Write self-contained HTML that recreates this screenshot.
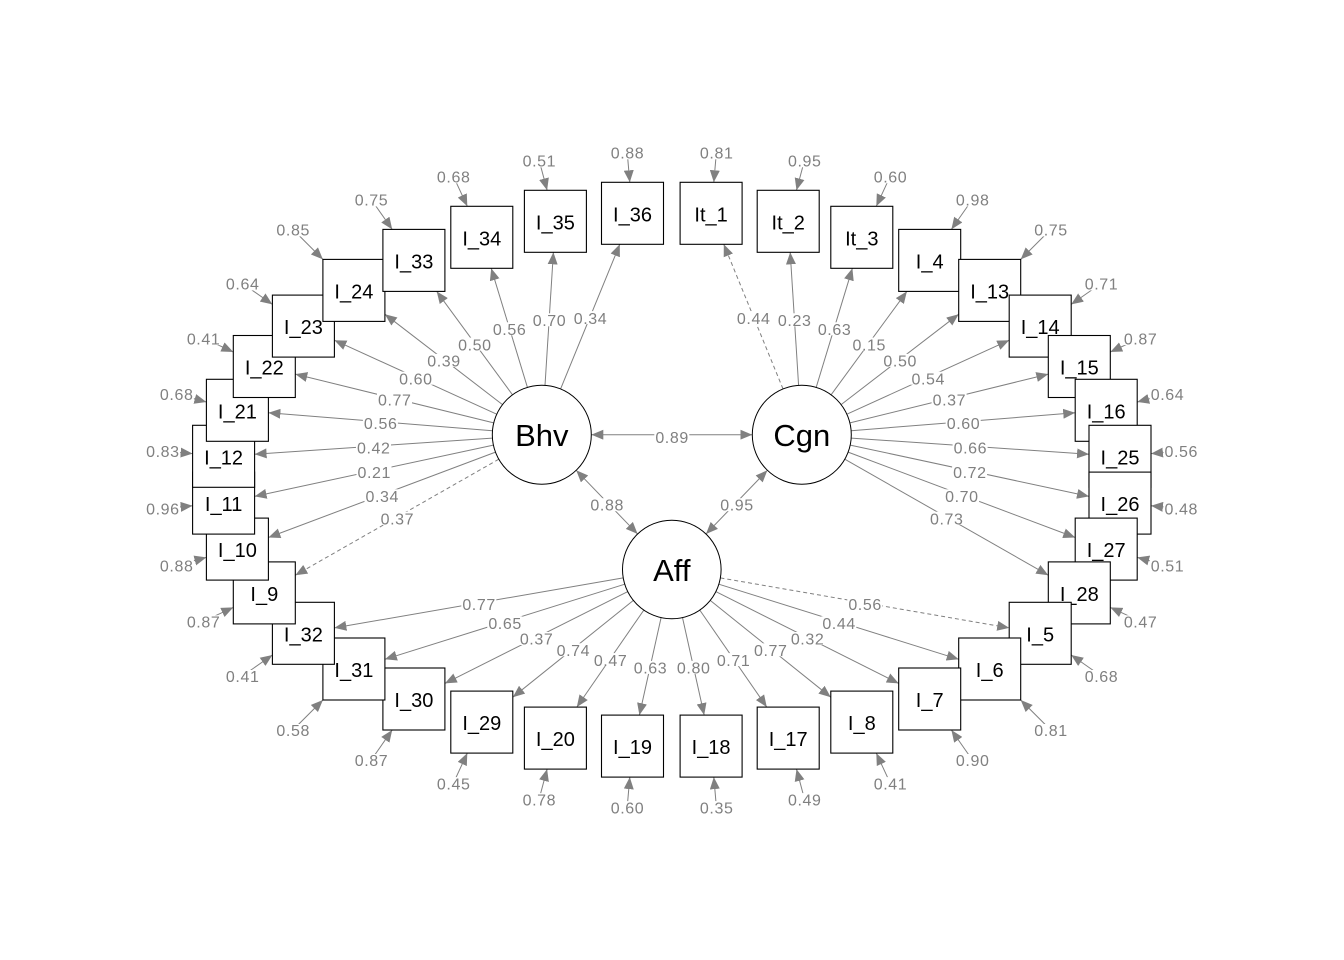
<!DOCTYPE html>
<html><head><meta charset="utf-8"><style>
html,body{margin:0;padding:0;background:#fff;}
svg{display:block;}
.el{font-family:"Liberation Sans",Arial,sans-serif;font-size:16px;letter-spacing:0.6px;fill:#808080;text-anchor:middle;}
.nd text{font-family:"Liberation Sans",Arial,sans-serif;font-size:20px;fill:#000;text-anchor:middle;}
.nd rect{fill:#fff;stroke:#000;stroke-width:1.1;}
.lt{font-family:"Liberation Sans",Arial,sans-serif;font-size:31px;fill:#000;text-anchor:middle;}
</style></head><body>
<svg width="1344" height="960" viewBox="0 0 1344 960" xmlns="http://www.w3.org/2000/svg">
<rect width="1344" height="960" fill="#fff"/>
<defs>
<marker id="ah" viewBox="0 0 12 10" refX="12" refY="5" markerWidth="12" markerHeight="10" markerUnits="userSpaceOnUse" orient="auto-start-reverse"><path d="M0,0L12,5L0,10Z" fill="#808080"/></marker>
</defs>

<g id="L" stroke="#808080" stroke-width="1" fill="none" marker-end="url(#ah)">
<line x1="545.0" y1="385.3" x2="553.4" y2="252.3"/>
<line x1="527.4" y1="387.3" x2="491.2" y2="268.3"/>
<line x1="512.5" y1="394.8" x2="436.7" y2="291.4"/>
<line x1="502.5" y1="404.6" x2="384.9" y2="314.2"/>
<line x1="496.7" y1="414.2" x2="334.4" y2="340.2"/>
<line x1="493.7" y1="422.9" x2="295.3" y2="374.1"/>
<line x1="492.5" y1="430.7" x2="268.4" y2="412.8"/>
<line x1="492.4" y1="438.1" x2="254.6" y2="454.2"/>
<line x1="493.4" y1="445.1" x2="254.6" y2="496.4"/>
<line x1="495.5" y1="452.1" x2="268.4" y2="537.5"/>
<line x1="624.8" y1="584.2" x2="384.9" y2="659.3"/>
<line x1="627.8" y1="591.6" x2="444.9" y2="683.4"/>
<line x1="633.4" y1="600.4" x2="512.8" y2="697.2"/>
<line x1="643.8" y1="610.1" x2="576.8" y2="707.1"/>
<line x1="661.1" y1="617.6" x2="639.4" y2="715.1"/>
<line x1="627.2" y1="152.3" x2="629.8" y2="182.3"/>
<line x1="539.1" y1="160.3" x2="547.1" y2="190.3"/>
<line x1="453.4" y1="176.3" x2="467.3" y2="206.3"/>
<line x1="371.2" y1="199.4" x2="392.2" y2="229.4"/>
<line x1="292.9" y1="229.4" x2="322.9" y2="259.4"/>
<line x1="242.4" y1="283.4" x2="272.4" y2="304.4"/>
<line x1="203.3" y1="338.1" x2="233.3" y2="352.0"/>
<line x1="176.4" y1="394.0" x2="206.4" y2="402.0"/>
<line x1="162.6" y1="451.0" x2="192.6" y2="453.6"/>
<line x1="162.6" y1="508.4" x2="192.6" y2="505.8"/>
<line x1="176.4" y1="565.4" x2="206.4" y2="557.4"/>
<line x1="203.3" y1="621.3" x2="233.3" y2="607.4"/>
<line x1="242.4" y1="676.0" x2="272.4" y2="655.0"/>
<line x1="292.9" y1="730.0" x2="322.9" y2="700.0"/>
<line x1="371.2" y1="760.0" x2="392.2" y2="730.0"/>
<line x1="453.4" y1="783.1" x2="467.3" y2="753.1"/>
<line x1="539.1" y1="799.1" x2="547.1" y2="769.1"/>
<line x1="627.2" y1="807.1" x2="629.8" y2="777.1"/>
</g>
<use href="#L" transform="matrix(-1 0 0 1 1343.6 0)"/>

<g stroke="#808080" stroke-width="1" fill="none" marker-end="url(#ah)">
<line x1="560.6" y1="388.9" x2="619.8" y2="244.3"/>
<line x1="498.8" y1="459.2" x2="295.3" y2="575.2" stroke-dasharray="4,3"/>
<line x1="623.2" y1="577.9" x2="334.4" y2="627.9"/>
<line x1="783.0" y1="388.9" x2="723.8" y2="244.3" stroke-dasharray="4,3"/>
<line x1="844.8" y1="459.2" x2="1048.3" y2="575.2"/>
<line x1="720.4" y1="577.9" x2="1009.2" y2="627.9" stroke-dasharray="4,3"/>
<line x1="591.3" y1="434.7" x2="752.3" y2="434.7" marker-start="url(#ah)"/>
<line x1="576.2" y1="470.3" x2="637.6" y2="534.0" marker-start="url(#ah)"/>
<line x1="767.4" y1="470.3" x2="706.0" y2="534.0" marker-start="url(#ah)"/>
</g>

<g fill="#fff" stroke="#000" stroke-width="1">
<circle cx="541.8" cy="434.7" r="49.5"/>
<circle cx="801.8" cy="434.7" r="49.5"/>
<circle cx="671.8" cy="569.5" r="49.3"/>
</g>
<text class="lt" x="541.8" y="446">Bhv</text>
<text class="lt" x="801.8" y="446">Cgn</text>
<text class="lt" x="671.8" y="581">Aff</text>

<g class="nd">
<g transform="translate(632.5,746.1)"><rect x="-31" y="-31" width="62" height="62"/><text y="8">I_19</text></g>
<g transform="translate(555.4,738.1)"><rect x="-31" y="-31" width="62" height="62"/><text y="8">I_20</text></g>
<g transform="translate(481.8,722.1)"><rect x="-31" y="-31" width="62" height="62"/><text y="8">I_29</text></g>
<g transform="translate(413.9,699.0)"><rect x="-31" y="-31" width="62" height="62"/><text y="8">I_30</text></g>
<g transform="translate(353.9,669.0)"><rect x="-31" y="-31" width="62" height="62"/><text y="8">I_31</text></g>
<g transform="translate(303.4,633.3)"><rect x="-31" y="-31" width="62" height="62"/><text y="8">I_32</text></g>
<g transform="translate(264.3,592.9)"><rect x="-31" y="-31" width="62" height="62"/><text y="8">I_9</text></g>
<g transform="translate(237.4,549.1)"><rect x="-31" y="-31" width="62" height="62"/><text y="8">I_10</text></g>
<g transform="translate(223.6,503.1)"><rect x="-31" y="-31" width="62" height="62"/><text y="8">I_11</text></g>
<g transform="translate(223.6,456.3)"><rect x="-31" y="-31" width="62" height="62"/><text y="8">I_12</text></g>
<g transform="translate(237.4,410.3)"><rect x="-31" y="-31" width="62" height="62"/><text y="8">I_21</text></g>
<g transform="translate(264.3,366.5)"><rect x="-31" y="-31" width="62" height="62"/><text y="8">I_22</text></g>
<g transform="translate(303.4,326.1)"><rect x="-31" y="-31" width="62" height="62"/><text y="8">I_23</text></g>
<g transform="translate(353.9,290.4)"><rect x="-31" y="-31" width="62" height="62"/><text y="8">I_24</text></g>
<g transform="translate(413.9,260.4)"><rect x="-31" y="-31" width="62" height="62"/><text y="8">I_33</text></g>
<g transform="translate(481.8,237.3)"><rect x="-31" y="-31" width="62" height="62"/><text y="8">I_34</text></g>
<g transform="translate(555.4,221.3)"><rect x="-31" y="-31" width="62" height="62"/><text y="8">I_35</text></g>
<g transform="translate(632.5,213.3)"><rect x="-31" y="-31" width="62" height="62"/><text y="8">I_36</text></g>
<g transform="translate(711.1,213.3)"><rect x="-31" y="-31" width="62" height="62"/><text y="8">It_1</text></g>
<g transform="translate(788.2,221.3)"><rect x="-31" y="-31" width="62" height="62"/><text y="8">It_2</text></g>
<g transform="translate(861.8,237.3)"><rect x="-31" y="-31" width="62" height="62"/><text y="8">It_3</text></g>
<g transform="translate(929.7,260.4)"><rect x="-31" y="-31" width="62" height="62"/><text y="8">I_4</text></g>
<g transform="translate(989.7,290.4)"><rect x="-31" y="-31" width="62" height="62"/><text y="8">I_13</text></g>
<g transform="translate(1040.2,326.1)"><rect x="-31" y="-31" width="62" height="62"/><text y="8">I_14</text></g>
<g transform="translate(1079.3,366.5)"><rect x="-31" y="-31" width="62" height="62"/><text y="8">I_15</text></g>
<g transform="translate(1106.2,410.3)"><rect x="-31" y="-31" width="62" height="62"/><text y="8">I_16</text></g>
<g transform="translate(1120.0,456.3)"><rect x="-31" y="-31" width="62" height="62"/><text y="8">I_25</text></g>
<g transform="translate(1120.0,503.1)"><rect x="-31" y="-31" width="62" height="62"/><text y="8">I_26</text></g>
<g transform="translate(1106.2,549.1)"><rect x="-31" y="-31" width="62" height="62"/><text y="8">I_27</text></g>
<g transform="translate(1079.3,592.9)"><rect x="-31" y="-31" width="62" height="62"/><text y="8">I_28</text></g>
<g transform="translate(1040.2,633.3)"><rect x="-31" y="-31" width="62" height="62"/><text y="8">I_5</text></g>
<g transform="translate(989.7,669.0)"><rect x="-31" y="-31" width="62" height="62"/><text y="8">I_6</text></g>
<g transform="translate(929.7,699.0)"><rect x="-31" y="-31" width="62" height="62"/><text y="8">I_7</text></g>
<g transform="translate(861.8,722.1)"><rect x="-31" y="-31" width="62" height="62"/><text y="8">I_8</text></g>
<g transform="translate(788.2,738.1)"><rect x="-31" y="-31" width="62" height="62"/><text y="8">I_17</text></g>
<g transform="translate(711.1,746.1)"><rect x="-31" y="-31" width="62" height="62"/><text y="8">I_18</text></g>
</g>

<g fill="#fff">
<rect x="572.7" y="311.1" width="35" height="13"/>
<rect x="531.7" y="313.3" width="35" height="13"/>
<rect x="491.8" y="322.3" width="35" height="13"/>
<rect x="457.1" y="337.6" width="35" height="13"/>
<rect x="426.2" y="353.9" width="35" height="13"/>
<rect x="398.1" y="371.7" width="35" height="13"/>
<rect x="377.0" y="393.0" width="35" height="13"/>
<rect x="362.9" y="416.3" width="35" height="13"/>
<rect x="356.0" y="440.6" width="35" height="13"/>
<rect x="356.5" y="465.3" width="35" height="13"/>
<rect x="364.5" y="489.3" width="35" height="13"/>
<rect x="379.6" y="511.7" width="35" height="13"/>
<rect x="461.3" y="597.4" width="35" height="13"/>
<rect x="487.3" y="616.3" width="35" height="13"/>
<rect x="518.8" y="632.0" width="35" height="13"/>
<rect x="555.6" y="643.3" width="35" height="13"/>
<rect x="592.8" y="653.1" width="35" height="13"/>
<rect x="632.7" y="660.9" width="35" height="13"/>
<rect x="735.9" y="311.1" width="35" height="13"/>
<rect x="776.9" y="313.3" width="35" height="13"/>
<rect x="816.8" y="322.3" width="35" height="13"/>
<rect x="851.5" y="337.6" width="35" height="13"/>
<rect x="882.4" y="353.9" width="35" height="13"/>
<rect x="910.5" y="371.7" width="35" height="13"/>
<rect x="931.6" y="393.0" width="35" height="13"/>
<rect x="945.7" y="416.3" width="35" height="13"/>
<rect x="952.6" y="440.6" width="35" height="13"/>
<rect x="952.1" y="465.3" width="35" height="13"/>
<rect x="944.1" y="489.3" width="35" height="13"/>
<rect x="929.0" y="511.7" width="35" height="13"/>
<rect x="847.3" y="597.4" width="35" height="13"/>
<rect x="821.3" y="616.3" width="35" height="13"/>
<rect x="789.8" y="632.0" width="35" height="13"/>
<rect x="753.0" y="643.3" width="35" height="13"/>
<rect x="715.8" y="653.1" width="35" height="13"/>
<rect x="675.9" y="660.9" width="35" height="13"/>
<rect x="609.7" y="146.3" width="35" height="13"/>
<rect x="521.6" y="154.3" width="35" height="13"/>
<rect x="435.9" y="170.3" width="35" height="13"/>
<rect x="353.7" y="193.4" width="35" height="13"/>
<rect x="275.4" y="223.4" width="35" height="13"/>
<rect x="224.9" y="277.4" width="35" height="13"/>
<rect x="185.8" y="332.1" width="35" height="13"/>
<rect x="158.9" y="388.0" width="35" height="13"/>
<rect x="145.1" y="445.0" width="35" height="13"/>
<rect x="145.1" y="502.4" width="35" height="13"/>
<rect x="158.9" y="559.4" width="35" height="13"/>
<rect x="185.8" y="615.3" width="35" height="13"/>
<rect x="224.9" y="670.0" width="35" height="13"/>
<rect x="275.4" y="724.0" width="35" height="13"/>
<rect x="353.7" y="754.0" width="35" height="13"/>
<rect x="435.9" y="777.1" width="35" height="13"/>
<rect x="521.6" y="793.1" width="35" height="13"/>
<rect x="609.7" y="801.1" width="35" height="13"/>
<rect x="698.9" y="146.3" width="35" height="13"/>
<rect x="787.0" y="154.3" width="35" height="13"/>
<rect x="872.7" y="170.3" width="35" height="13"/>
<rect x="954.9" y="193.4" width="35" height="13"/>
<rect x="1033.2" y="223.4" width="35" height="13"/>
<rect x="1083.7" y="277.4" width="35" height="13"/>
<rect x="1122.8" y="332.1" width="35" height="13"/>
<rect x="1149.7" y="388.0" width="35" height="13"/>
<rect x="1163.5" y="445.0" width="35" height="13"/>
<rect x="1163.5" y="502.4" width="35" height="13"/>
<rect x="1149.7" y="559.4" width="35" height="13"/>
<rect x="1122.8" y="615.3" width="35" height="13"/>
<rect x="1083.7" y="670.0" width="35" height="13"/>
<rect x="1033.2" y="724.0" width="35" height="13"/>
<rect x="954.9" y="754.0" width="35" height="13"/>
<rect x="872.7" y="777.1" width="35" height="13"/>
<rect x="787.0" y="793.1" width="35" height="13"/>
<rect x="698.9" y="801.1" width="35" height="13"/>
<rect x="654.3" y="430.7" width="35" height="13"/>
<rect x="589.4" y="498.2" width="35" height="13"/>
<rect x="719.2" y="498.2" width="35" height="13"/>
</g>

<g class="el">
<text x="590.5" y="323.8">0.34</text>
<text x="549.5" y="326.0">0.70</text>
<text x="509.6" y="335.0">0.56</text>
<text x="474.9" y="350.3">0.50</text>
<text x="444.0" y="366.6">0.39</text>
<text x="415.9" y="384.4">0.60</text>
<text x="394.8" y="405.7">0.77</text>
<text x="380.7" y="429.0">0.56</text>
<text x="373.8" y="453.3">0.42</text>
<text x="374.3" y="478.0">0.21</text>
<text x="382.3" y="502.0">0.34</text>
<text x="397.4" y="524.4">0.37</text>
<text x="479.1" y="610.1">0.77</text>
<text x="505.1" y="629.0">0.65</text>
<text x="536.6" y="644.7">0.37</text>
<text x="573.4" y="656.0">0.74</text>
<text x="610.6" y="665.8">0.47</text>
<text x="650.5" y="673.6">0.63</text>
<text x="753.7" y="323.8">0.44</text>
<text x="794.7" y="326.0">0.23</text>
<text x="834.6" y="335.0">0.63</text>
<text x="869.3" y="350.3">0.15</text>
<text x="900.2" y="366.6">0.50</text>
<text x="928.3" y="384.4">0.54</text>
<text x="949.4" y="405.7">0.37</text>
<text x="963.5" y="429.0">0.60</text>
<text x="970.4" y="453.3">0.66</text>
<text x="969.9" y="478.0">0.72</text>
<text x="961.9" y="502.0">0.70</text>
<text x="946.8" y="524.4">0.73</text>
<text x="865.1" y="610.1">0.56</text>
<text x="839.1" y="629.0">0.44</text>
<text x="807.6" y="644.7">0.32</text>
<text x="770.8" y="656.0">0.77</text>
<text x="733.6" y="665.8">0.71</text>
<text x="693.7" y="673.6">0.80</text>

<text x="627.5" y="158.5">0.88</text>
<text x="539.4" y="166.5">0.51</text>
<text x="453.7" y="182.5">0.68</text>
<text x="371.5" y="205.6">0.75</text>
<text x="293.2" y="235.6">0.85</text>
<text x="242.7" y="289.6">0.64</text>
<text x="203.6" y="344.3">0.41</text>
<text x="176.7" y="400.2">0.68</text>
<text x="162.9" y="457.2">0.83</text>
<text x="162.9" y="514.6">0.96</text>
<text x="176.7" y="571.6">0.88</text>
<text x="203.6" y="627.5">0.87</text>
<text x="242.7" y="682.2">0.41</text>
<text x="293.2" y="736.2">0.58</text>
<text x="371.5" y="766.2">0.87</text>
<text x="453.7" y="789.3">0.45</text>
<text x="539.4" y="805.3">0.78</text>
<text x="627.5" y="813.3">0.60</text>
<text x="716.7" y="158.5">0.81</text>
<text x="804.8" y="166.5">0.95</text>
<text x="890.5" y="182.5">0.60</text>
<text x="972.7" y="205.6">0.98</text>
<text x="1051.0" y="235.6">0.75</text>
<text x="1101.5" y="289.6">0.71</text>
<text x="1140.6" y="344.3">0.87</text>
<text x="1167.5" y="400.2">0.64</text>
<text x="1181.3" y="457.2">0.56</text>
<text x="1181.3" y="514.6">0.48</text>
<text x="1167.5" y="571.6">0.51</text>
<text x="1140.6" y="627.5">0.47</text>
<text x="1101.5" y="682.2">0.68</text>
<text x="1051.0" y="736.2">0.81</text>
<text x="972.7" y="766.2">0.90</text>
<text x="890.5" y="789.3">0.41</text>
<text x="804.8" y="805.3">0.49</text>
<text x="716.7" y="813.3">0.35</text>

<text x="672.1" y="443.0">0.89</text>
<text x="607.2" y="510.4">0.88</text>
<text x="737.0" y="510.4">0.95</text>
</g>
</svg>
</body></html>
